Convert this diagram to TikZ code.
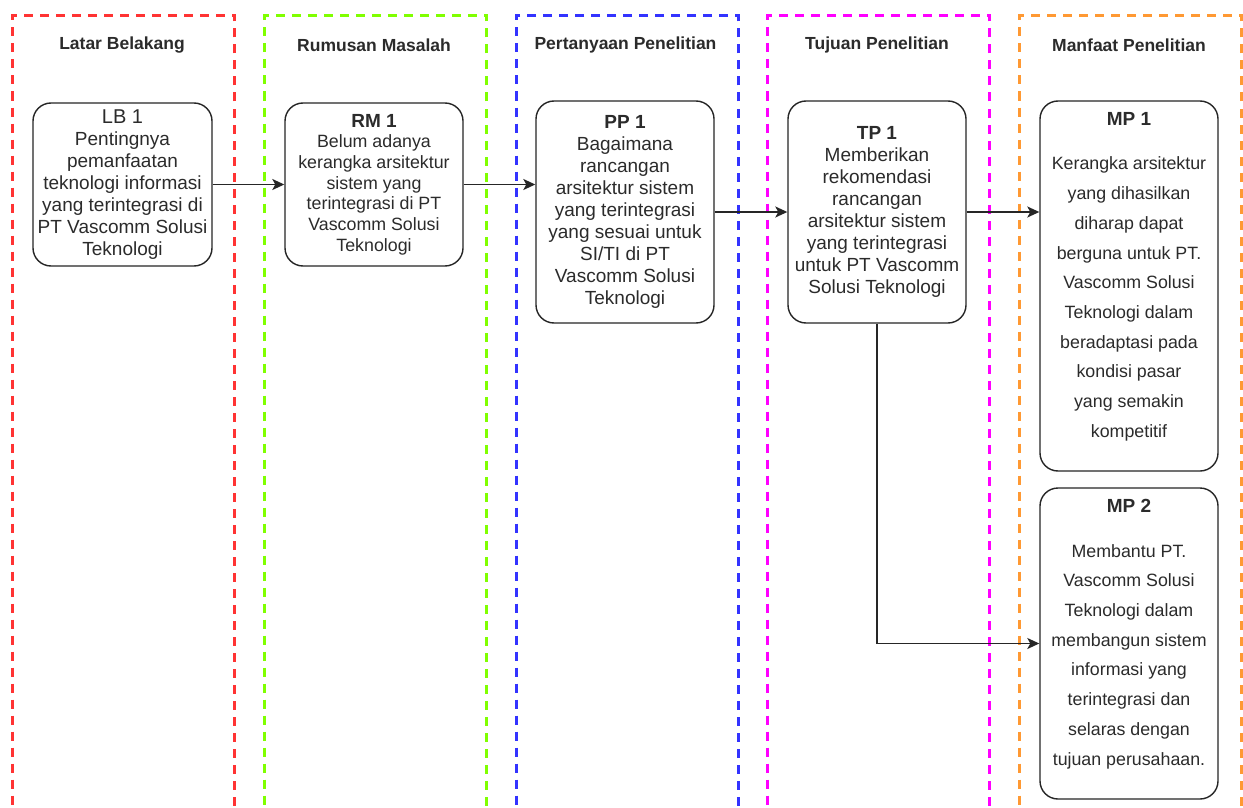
\documentclass[tikz,border=0pt]{standalone}
\usepackage{fontspec}
\setmainfont{Liberation Sans}
\usetikzlibrary{arrows.meta}
\newcommand\fsz[2]{\fontsize{#1}{#2}\selectfont}
\definecolor{lred}{HTML}{FF3333}
\definecolor{lgreen}{HTML}{80FF00}
\definecolor{lblue}{HTML}{3333FF}
\definecolor{lmag}{HTML}{FF00FF}
\definecolor{lorange}{HTML}{FF9933}
\definecolor{ink}{HTML}{2B2B2B}
\definecolor{edge}{HTML}{262626}
\tikzset{
  lane/.style={line width=3pt, dash pattern=on 9pt off 7pt, anchor=north west,
    minimum width=222pt, minimum height=840pt, inner sep=0pt},
  lanetitle/.style={font=\bfseries\fsz{17.5}{20}, text=ink, inner sep=0pt},
  box/.style={draw=edge, line width=1.4pt, rounded corners=18pt, inner sep=0pt,
    align=center, text=ink},
  mptext/.style={align=center, text=ink, inner sep=0pt, anchor=north, font=\fsz{17.8}{29.7}},
  conn/.style={draw=edge, line width=1.6pt, -{Stealth[length=12pt,width=11pt,inset=3pt]}}
}
\begin{document}
\begin{tikzpicture}[x=1pt,y=-1pt]
\clip (0,0) rectangle (1243,808);
\fill[white] (0,0) rectangle (1243,808);

% lanes
\node[lane, draw=lred]    (L1) at (11,14) {};
\node[lane, draw=lgreen]  (L2) at (263,14) {};
\node[lane, draw=lblue]   (L3) at (514.5,14) {};
\node[lane, draw=lmag]    (L4) at (766,14) {};
\node[lane, draw=lorange] (L5) at (1018,14) {};

\node[lanetitle] (T1) at (122,45) {Latar Belakang};
\node[lanetitle] (T2) at (374,45) {Rumusan Masalah};
\node[lanetitle] (T3) at (625.5,45) {Pertanyaan Penelitian};
\node[lanetitle] (T4) at (877,45) {Tujuan Penelitian};
\node[lanetitle] (T5) at (1129,45) {Manfaat Penelitian};

% boxes
\node[box, minimum width=179pt, minimum height=163pt, font=\fsz{19}{22}] (LB1) at (122.5,184.5)
  {{\fsz{20}{22}LB 1}\\Pentingnya\\pemanfaatan\\teknologi informasi\\yang terintegrasi di\\PT Vascomm Solusi\\Teknologi};
\node[box, minimum width=178pt, minimum height=163pt, font=\fsz{17.8}{20.7}] (RM1) at (374,184.5)
  {{\bfseries\fsz{19}{20.7}RM 1}\\Belum adanya\\kerangka arsitektur\\sistem yang\\terintegrasi di PT\\Vascomm Solusi\\Teknologi};
\node[box, minimum width=178pt, minimum height=222pt, font=\fsz{19}{22}] (PP1) at (625,212)
  {{\bfseries PP 1}\\Bagaimana\\rancangan\\arsitektur sistem\\yang terintegrasi\\yang sesuai untuk\\SI/TI di PT\\Vascomm Solusi\\Teknologi};
\node[box, minimum width=178pt, minimum height=222pt, font=\fsz{19}{22}] (TP1) at (877,212)
  {{\bfseries TP 1}\\Memberikan\\rekomendasi\\rancangan\\arsitektur sistem\\yang terintegrasi\\untuk PT Vascomm\\Solusi Teknologi};
\node[box, minimum width=178pt, minimum height=370pt] (MP1) at (1129,286) {};
\node[box, minimum width=178pt, minimum height=311pt] (MP2) at (1129,643.5) {};

\node[mptext] (MP1t) at (1129,112)
  {{\bfseries\fsz{19}{29.7}MP 1}\\[15pt]Kerangka arsitektur\\yang dihasilkan\\diharap dapat\\berguna untuk PT.\\Vascomm Solusi\\Teknologi dalam\\beradaptasi pada\\kondisi pasar\\yang semakin\\kompetitif};
\node[mptext] (MP2t) at (1129,499)
  {{\bfseries\fsz{19}{29.7}MP 2}\\[15pt]Membantu PT.\\Vascomm Solusi\\Teknologi dalam\\membangun sistem\\informasi yang\\terintegrasi dan\\selaras dengan\\tujuan perusahaan.};

% connectors
\draw[conn] (LB1.east) -- (RM1.west);
\draw[conn] (RM1.east) -- (RM1.east -| PP1.west);
\draw[conn] (PP1.east) -- (TP1.west);
\draw[conn] (TP1.east) -- (TP1.east -| MP1.west);
\draw[conn] (TP1.south) |- (MP2.west);
\end{tikzpicture}
\end{document}
